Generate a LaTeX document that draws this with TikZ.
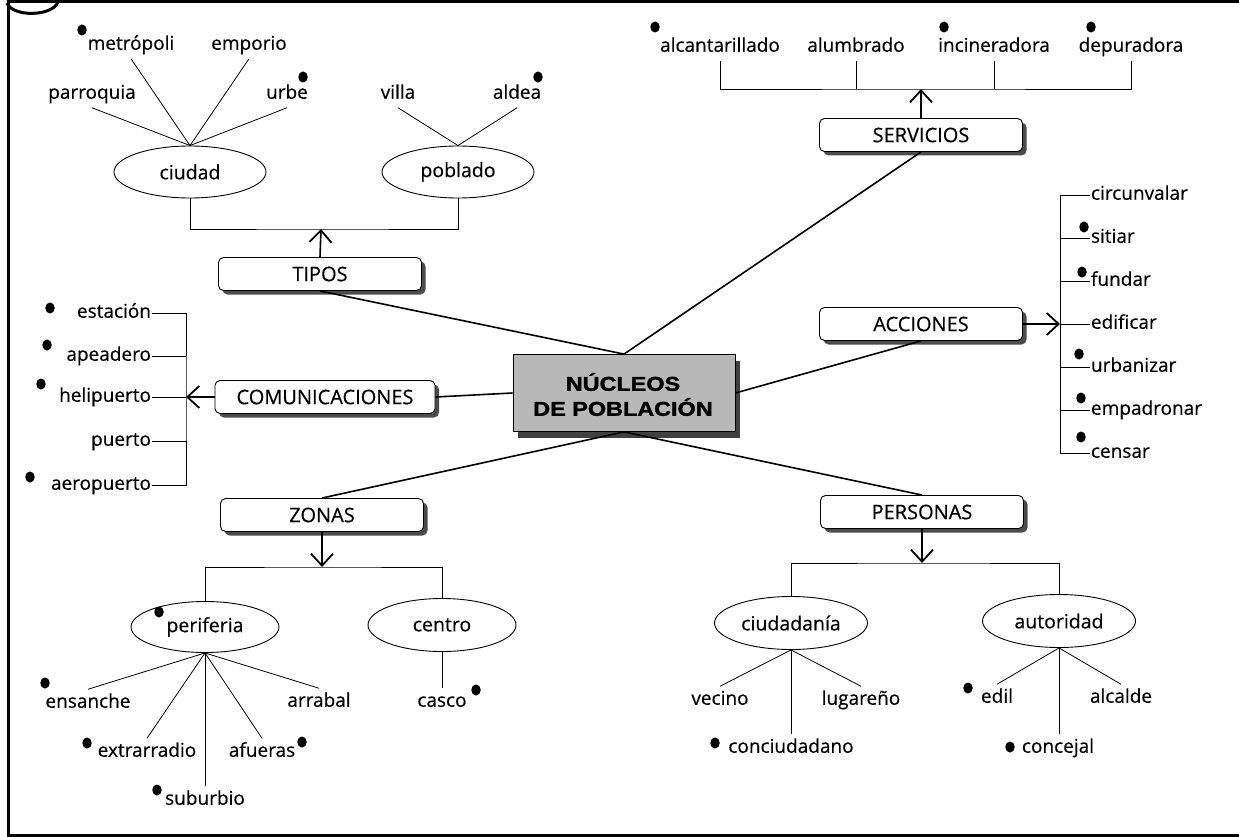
\documentclass[tikz,border=0pt]{standalone}
\usepackage{fontspec}
\usepackage{graphicx}
\setmainfont{Open Sans}[FakeBold=0.4]
\newfontfamily\heavy{Liberation Sans}[FakeBold=1.5]
\usetikzlibrary{arrows.meta,shapes.geometric,shadows,calc}
\begin{document}
\begin{tikzpicture}[x=1pt,y=-1pt,
  lab/.style={font=\fontsize{19}{21}\selectfont, inner sep=1pt, outer sep=4pt, text height=13.5pt, text depth=4pt},
  item/.style={lab, outer sep=0pt},
  catbox/.style={draw, line width=0.9pt, rounded corners=5pt, fill=white, minimum width=203pt, minimum height=33pt, inner sep=0pt,
    font=\fontsize{20}{22}\selectfont,
    drop shadow={shadow xshift=4pt, shadow yshift=-4pt, fill=black!70, opacity=1}},
  ell/.style={ellipse, draw, line width=0.9pt, minimum width=152pt, minimum height=52pt, inner sep=0pt, font=\fontsize{19.5}{21}\selectfont},
  dot/.style={ellipse, fill=black, inner sep=0pt, minimum width=9.5pt, minimum height=11pt},
  spoke/.style={line width=0.8pt},
  link/.style={line width=1.6pt},
  arr/.style={line width=1.6pt, -{Straight Barb[length=12pt, width=22pt, line width=1.8pt]}},
  nuctext/.style={font=\heavy\bfseries\fontsize{20}{25}\selectfont, inner sep=0pt}
]
\useasboundingbox (0,0) rectangle (1239,837);
\fill[white] (0,0) rectangle (1239,837);
% frame
\draw[line width=3pt] (1239,2) -- (8,2) -- (8,835) -- (1239,835);
\draw[line width=3pt] (7,3) .. controls (12,17) and (52,17) .. (58,2);

% ---------- center ----------
\node[draw, line width=0.8pt, fill=black!28, minimum width=222pt, minimum height=77pt, inner sep=0pt,
  drop shadow={shadow xshift=5pt, shadow yshift=-6pt, fill=black!75, opacity=1}] (nuc) at (624,393) {};
\node[nuctext] (nuct1) at (623,382) {\scalebox{1.17}[1]{NÚCLEOS}};
\node[nuctext] (nuct2) at (623,407) {\scalebox{1.17}[1]{DE POBLACIÓN}};

% ---------- TIPOS ----------
\node[lab] (metro) at (131,45) {metrópoli};
\node[lab] (empo) at (249,45) {emporio};
\node[lab] (parr) at (92,94) {parroquia};
\node[lab] (urbe) at (287,94) {urbe};
\node[ell] (ciudad) at (190,172) {ciudad};
\node[lab] (villa) at (398,94) {villa};
\node[lab] (aldea) at (517,94) {aldea};
\node[ell] (poblado) at (458,172) {poblado};
\coordinate (tb) at (321,229);
\node[catbox] (tipos) at (320,274) {TIPOS};
\foreach \n in {metro,empo,parr,urbe} \draw[spoke] (ciudad.north) -- (\n.south);
\foreach \n in {villa,aldea} \draw[spoke] (poblado.north) -- (\n.south);
\draw[spoke] (ciudad.south) |- (tb) -| (poblado.south);
\draw[arr] (tipos.north) -- (tb);
\node[dot] (d1) at (82,30) {};
\node[dot] (d2) at (303,77) {};
\node[dot] (d3) at (538,77) {};

% ---------- SERVICIOS ----------
\node[lab] (alc) at (720,47) {alcantarillado};
\node[lab] (alu) at (856,47) {alumbrado};
\node[lab] (inc) at (994,47) {incineradora};
\node[lab] (dep) at (1131,47) {depuradora};
\coordinate (sbar) at (921,89);
\node[catbox] (serv) at (921,135) {SERVICIOS};
\draw[spoke] (alc.south) |- (sbar) -| (dep.south);
\draw[spoke] (alu.south) -- (alu.south |- sbar);
\draw[spoke] (inc.south) -- (inc.south |- sbar);
\draw[arr] (serv.north) -- (sbar);
\node[dot] (d4) at (655,27) {};
\node[dot] (d5) at (944,27) {};
\node[dot] (d6) at (1091,27) {};

% ---------- ACCIONES ----------
\node[catbox] (acc) at (921,324) {ACCIONES};
\coordinate (abr) at (1060,324);
\node[item, anchor=west] (circ) at (1090,195) {circunvalar};
\node[item, anchor=west] (sit) at (1090,238) {sitiar};
\node[item, anchor=west] (fun) at (1090,281) {fundar};
\node[item, anchor=west] (edi) at (1090,324) {edificar};
\node[item, anchor=west] (urb) at (1090,367) {urbanizar};
\node[item, anchor=west] (emp) at (1090,410) {empadronar};
\node[item, anchor=west] (cen) at (1090,453) {censar};
\draw[spoke] (circ.west) -| (abr) |- (cen.west);
\foreach \n in {sit,fun,edi,urb,emp} \draw[spoke] (\n.west) -- (\n.west -| abr);
\draw[arr] (acc.east) -- (abr);
\node[dot] (d7) at (1084,227) {};
\node[dot] (d8) at (1082,272) {};
\node[dot] (d9) at (1079,354) {};
\node[dot] (d10) at (1081,398) {};
\node[dot] (d11) at (1081,437) {};

% ---------- COMUNICACIONES ----------
\node[catbox, minimum width=220pt] (com) at (325,397) {COMUNICACIONES};
\coordinate (cbr) at (186,397);
\node[item, anchor=east] (est) at (152,313) {estación};
\node[item, anchor=east] (ape) at (152,356) {apeadero};
\node[item, anchor=east] (hel) at (152,397) {helipuerto};
\node[item, anchor=east] (pue) at (152,441) {puerto};
\node[item, anchor=east] (aer) at (152,485) {aeropuerto};
\draw[spoke] (est.east) -| (cbr) |- (aer.east);
\foreach \n in {ape,hel,pue} \draw[spoke] (\n.east) -- (\n.east -| cbr);
\draw[arr] (com.west) -- (cbr);
\node[dot] (d12) at (50,308) {};
\node[dot] (d13) at (47,345) {};
\node[dot] (d14) at (41,384) {};
\node[dot] (d15) at (30,477) {};

% ---------- ZONAS ----------
\node[catbox] (zon) at (322,515) {ZONAS};
\coordinate (zbar) at (322,567);
\node[ell, minimum width=148pt, minimum height=51pt] (peri) at (205,627) {periferia};
\node[ell, minimum width=148pt, minimum height=53pt] (cent) at (442,625) {centro};
\draw[spoke] (peri.north) |- (zbar) -| (cent.north);
\draw[arr] (zon.south) -- (zbar);
\node[lab] (ens) at (88,703) {ensanche};
\node[lab] (ext) at (147,752) {extrarradio};
\node[lab] (sub) at (205,800) {suburbio};
\node[lab] (afu) at (262,752) {afueras};
\node[lab] (arr) at (319,702) {arrabal};
\node[lab] (cas) at (442,702) {casco};
\foreach \n in {ens,ext,afu,arr} \draw[spoke] (peri.south) -- (\n.north);
\draw[spoke] (peri.south) -- (peri.south |- sub.north);
\draw[spoke] (cent.south) -- (cent.south |- cas.north);
\node[dot] (d16) at (159,612) {};
\node[dot] (d17) at (45,683) {};
\node[dot] (d18) at (87,743) {};
\node[dot] (d19) at (157,790) {};
\node[dot] (d20) at (302,742) {};
\node[dot] (d21) at (476,690) {};

% ---------- PERSONAS ----------
\node[catbox] (per) at (922,512) {PERSONAS};
\coordinate (pbar) at (922,563);
\node[ell, minimum width=153pt, minimum height=53pt] (ciu) at (791,623) {ciudadanía};
\node[ell, minimum width=153pt, minimum height=53pt] (aut) at (1059,621) {autoridad};
\draw[spoke] (ciu.north) |- (pbar) -| (aut.north);
\draw[arr] (per.south) -- (pbar);
\node[lab] (vec) at (720,700) {vecino};
\node[lab] (lug) at (861,700) {lugareño};
\node[lab] (con) at (791,748) {conciudadano};
\node[lab] (edil) at (997,698) {edil};
\node[lab] (alcl) at (1121,698) {alcalde};
\node[lab] (conc) at (1058,748) {concejal};
\draw[spoke] (ciu.south) -- (vec.north);
\draw[spoke] (ciu.south) -- (lug.north);
\draw[spoke] (ciu.south) -- (ciu.south |- con.north);
\draw[spoke] (aut.south) -- (edil.north);
\draw[spoke] (aut.south) -- (alcl.north);
\draw[spoke] (aut.south) -- (aut.south |- conc.north);
\node[dot] (d22) at (715,743) {};
\node[dot] (d23) at (968,688) {};
\node[dot] (d24) at (1010,747) {};

% ---------- links from center ----------
\draw[link] (tipos.south) -- (nuc.north);
\draw[link] (serv.south) -- (nuc.north);
\draw[link] (com.east) -- (nuc.west);
\draw[link] (nuc.east) -- (acc.south);
\draw[link] (nuc.south) -- (zon.north);
\draw[link] (nuc.south) -- (per.north);
\end{tikzpicture}
\end{document}
